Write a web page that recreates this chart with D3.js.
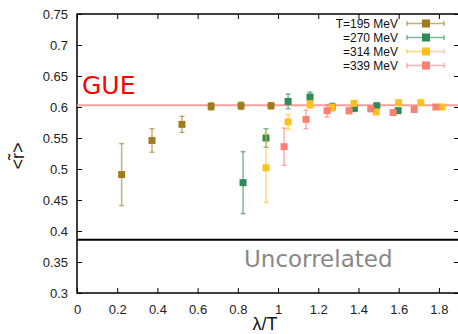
<!DOCTYPE html>
<html>
<head>
<meta charset="utf-8">
<script src="https://cdn.jsdelivr.net/npm/d3@7"></script>
<style>
  body { margin: 0; background: #fff; }
  svg { display: block; }
  .tick text { font-family: "Liberation Sans", Arial, sans-serif; font-size: 13px; fill: #222; }
</style>
</head>
<body>
<div id="chart"></div>
<script>
// tick values
const xTicks = [0, 0.2, 0.4, 0.6, 0.8, 1, 1.2, 1.4, 1.6, 1.8];
const yTicks = [0.3, 0.35, 0.4, 0.45, 0.5, 0.55, 0.6, 0.65, 0.7, 0.75];

// reference lines
const gueValue = 0.6027;
const poissonValue = 0.386;

// T=195 MeV
const x195 = [0.222, 0.373, 0.522, 0.667, 0.816, 0.965];
const r195 = [0.491, 0.546, 0.572, 0.601, 0.602, 0.602];
const e195 = [0.050, 0.019, 0.013, 0.006, 0.006, 0.005];

// T=270 MeV
const x270 = [0.826, 0.940, 1.050, 1.159, 1.270, 1.380, 1.491, 1.597];
const r270 = [0.478, 0.550, 0.609, 0.616, 0.600, 0.598, 0.602, 0.594];
const e270 = [0.050, 0.015, 0.012, 0.008, 0.006, 0.005, 0.004, 0.004];

// T=314 MeV
const x314 = [0.940, 1.050, 1.159, 1.269, 1.378, 1.488, 1.600, 1.710, 1.816];
const r314 = [0.502, 0.576, 0.604, 0.599, 0.606, 0.592, 0.607, 0.607, 0.600];
const e314 = [0.056, 0.012, 0.006, 0.005, 0.004, 0.004, 0.003, 0.003, 0.003];

// T=339 MeV
const x339 = [1.030, 1.139, 1.244, 1.353, 1.461, 1.572, 1.677, 1.785];
const r339 = [0.536, 0.580, 0.594, 0.594, 0.597, 0.591, 0.596, 0.600];
const e339 = [0.030, 0.015, 0.010, 0.005, 0.004, 0.004, 0.003, 0.003];

const legendLabels = ["T=195 MeV", "=270 MeV", "=314 MeV", "=339 MeV"];
const colors = ["#a07c1c", "#2e8b57", "#ffc020", "#fa8072"];

const series = [
    { x: x195, y: r195, e: e195 },
    { x: x270, y: r270, e: e270 },
    { x: x314, y: r314, e: e314 },
    { x: x339, y: r339, e: e339 }
];

const width = 458, height = 334;
const margin = { top: 14, right: -1, bottom: 41, left: 77 };

const svg = d3.select('#chart').append('svg')
    .attr('width', width)
    .attr('height', height);

const x = d3.scaleLinear()
    .domain([0, 1.9])
    .range([margin.left, width - margin.right]);

const y = d3.scaleLinear()
    .domain([0.3, 0.75])
    .range([height - margin.bottom, margin.top]);

const fmt = d => String(+d.toFixed(2));

// axes with inward ticks, mirrored on top / right
svg.append('g')
    .attr('transform', `translate(0, ${y(0.3)})`)
    .call(d3.axisBottom(x).tickValues(xTicks).tickFormat(fmt).tickSizeInner(-5).tickSizeOuter(0).tickPadding(12))
    .call(g => g.select('.domain').remove());

svg.append('g')
    .attr('transform', `translate(0, ${y(0.75)})`)
    .call(d3.axisTop(x).tickValues(xTicks).tickFormat('').tickSizeInner(-5).tickSizeOuter(0))
    .call(g => g.select('.domain').remove());

svg.append('g')
    .attr('transform', `translate(${x(0)}, 0)`)
    .call(d3.axisLeft(y).tickValues(yTicks).tickFormat(fmt).tickSizeInner(-5).tickSizeOuter(0).tickPadding(9))
    .call(g => g.select('.domain').remove());

svg.append('g')
    .attr('transform', `translate(${x(1.9)}, 0)`)
    .call(d3.axisRight(y).tickValues(yTicks).tickFormat('').tickSizeInner(-5).tickSizeOuter(0))
    .call(g => g.select('.domain').remove());

svg.selectAll('.tick line').attr('stroke', '#000').attr('stroke-width', 1);

// frame
svg.append('rect')
    .attr('x', x(0))
    .attr('y', y(0.75))
    .attr('width', x(1.9) - x(0))
    .attr('height', y(0.3) - y(0.75))
    .attr('fill', 'none')
    .attr('stroke', '#000')
    .attr('stroke-width', 1.5);

// GUE line
svg.append('line')
    .attr('x1', x(0)).attr('x2', x(1.9))
    .attr('y1', y(gueValue)).attr('y2', y(gueValue))
    .attr('stroke', '#f4a0a0')
    .attr('stroke-width', 2);

svg.append('text')
    .attr('x', x(0) + 5)
    .attr('y', y(gueValue) - 11)
    .attr('font-family', 'DejaVu Sans, sans-serif')
    .attr('font-size', 25)
    .attr('fill', '#ff0000')
    .text('GUE');

// uncorrelated (Poisson) line
svg.append('line')
    .attr('x1', x(0)).attr('x2', x(1.9))
    .attr('y1', y(poissonValue)).attr('y2', y(poissonValue))
    .attr('stroke', '#000')
    .attr('stroke-width', 2);

svg.append('text')
    .attr('x', x(1.2))
    .attr('y', y(poissonValue) + 27)
    .attr('text-anchor', 'middle')
    .attr('font-family', 'DejaVu Sans, sans-serif')
    .attr('font-size', 23)
    .attr('fill', '#888')
    .text('Uncorrelated');

// data: error bars then squares, series in order
const sq = 7, cap = 2.5;
series.forEach((s, i) => {
    const pts = s.x.map((v, j) => ({ x: v, y: s.y[j], e: s.e[j] }));
    const g = svg.append('g');
    const eb = g.selectAll('g.err').data(pts).enter().append('g')
        .attr('stroke', colors[i])
        .attr('stroke-opacity', 0.6)
        .attr('stroke-width', 1.5);
    eb.append('line')
        .attr('x1', d => x(d.x)).attr('x2', d => x(d.x))
        .attr('y1', d => y(d.y - d.e)).attr('y2', d => y(d.y + d.e));
    eb.append('line')
        .attr('x1', d => x(d.x) - cap).attr('x2', d => x(d.x) + cap)
        .attr('y1', d => y(d.y - d.e)).attr('y2', d => y(d.y - d.e));
    eb.append('line')
        .attr('x1', d => x(d.x) - cap).attr('x2', d => x(d.x) + cap)
        .attr('y1', d => y(d.y + d.e)).attr('y2', d => y(d.y + d.e));
    g.selectAll('rect').data(pts).enter().append('rect')
        .attr('x', d => x(d.x) - sq / 2)
        .attr('y', d => y(d.y) - sq / 2)
        .attr('width', sq)
        .attr('height', sq)
        .attr('fill', colors[i]);
});

// legend
const legend = svg.append('g');
legendLabels.forEach((label, i) => {
    const ly = 23.5 + i * 14;
    legend.append('text')
        .attr('x', 398)
        .attr('y', ly + 4.3)
        .attr('text-anchor', 'end')
        .attr('font-family', 'Liberation Sans, Arial, sans-serif')
        .attr('font-size', 12)
        .attr('fill', '#111')
        .text(label);
    const lg = legend.append('g')
        .attr('stroke', colors[i])
        .attr('stroke-opacity', 0.6)
        .attr('stroke-width', 1.5);
    lg.append('line').attr('x1', 407).attr('x2', 444).attr('y1', ly).attr('y2', ly);
    lg.append('line').attr('x1', 407).attr('x2', 407).attr('y1', ly - 2.5).attr('y2', ly + 2.5);
    lg.append('line').attr('x1', 444).attr('x2', 444).attr('y1', ly - 2.5).attr('y2', ly + 2.5);
    legend.append('rect')
        .attr('x', 426 - sq / 2 - 0.5)
        .attr('y', ly - sq / 2 - 0.5)
        .attr('width', sq + 1)
        .attr('height', sq + 1)
        .attr('fill', colors[i]);
});

// axis titles
svg.append('text')
    .attr('x', (x(0) + x(1.9)) / 2 - 3)
    .attr('y', 330)
    .attr('text-anchor', 'middle')
    .attr('font-family', 'Liberation Sans, Arial, sans-serif')
    .attr('font-size', 18)
    .attr('fill', '#111')
    .text('λ/T');

svg.append('text')
    .attr('transform', 'translate(24, 156) rotate(-90)')
    .attr('text-anchor', 'middle')
    .attr('font-family', 'Liberation Sans, Arial, sans-serif')
    .attr('font-size', 18)
    .attr('fill', '#111')
    .text('<r\u0303>');
</script>
</body>
</html>
